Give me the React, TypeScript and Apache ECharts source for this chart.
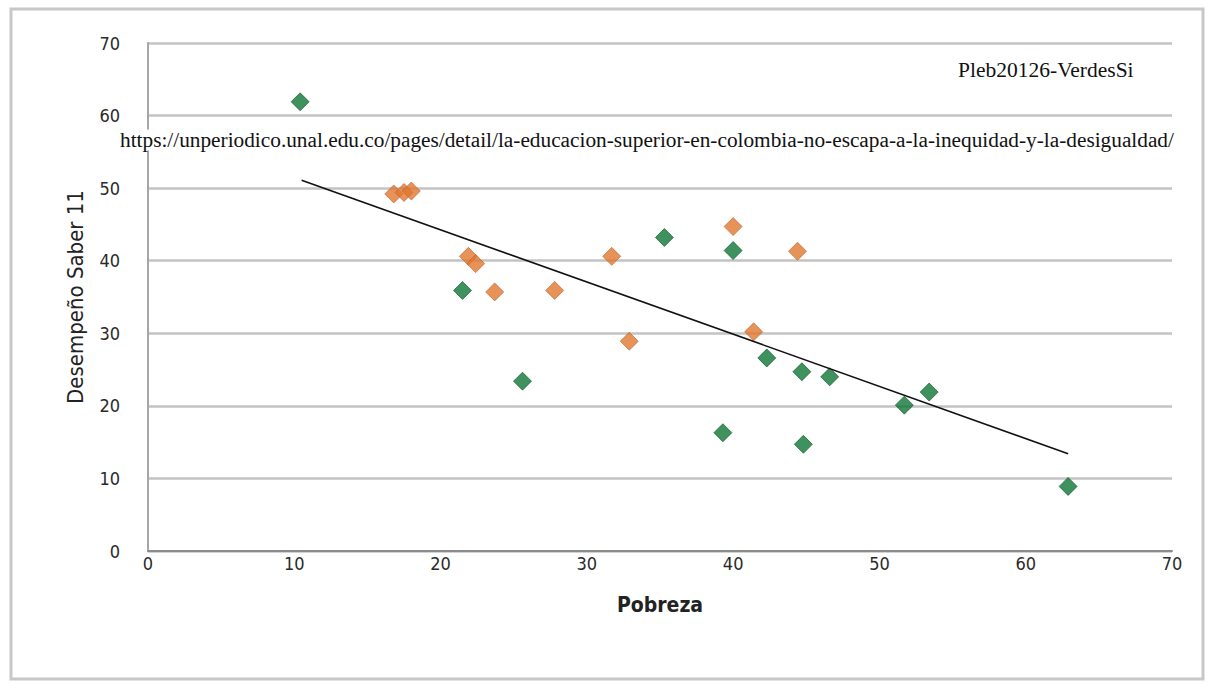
import React, { useEffect, useRef } from "react";
import * as echarts from "echarts";

const greenPoints: [number, number][] = [
  [10.4, 61.9],
  [21.5, 35.9],
  [25.6, 23.4],
  [35.3, 43.2],
  [39.3, 16.3],
  [40.0, 41.4],
  [42.3, 26.6],
  [44.7, 24.7],
  [44.8, 14.7],
  [46.6, 24.0],
  [51.7, 20.1],
  [53.4, 21.9],
  [62.9, 8.9],
];

const orangePoints: [number, number][] = [
  [16.8, 49.2],
  [17.5, 49.4],
  [18.0, 49.6],
  [21.9, 40.6],
  [22.4, 39.6],
  [23.7, 35.7],
  [27.8, 35.9],
  [31.7, 40.6],
  [32.9, 28.9],
  [40.0, 44.7],
  [41.4, 30.2],
  [44.4, 41.3],
];

const trendLine: [number, number][] = [
  [10.5, 51.1],
  [62.9, 13.4],
];

const xTicks = { min: 0, max: 70, interval: 10 };
const yTicks = { min: 0, max: 70, interval: 10 };

const xName = "Pobreza";
const yName = "Desempeño Saber 11";
const noteTitle = "Pleb20126-VerdesSi";
const noteUrl =
  "https://unperiodico.unal.edu.co/pages/detail/la-educacion-superior-en-colombia-no-escapa-a-la-inequidad-y-la-desigualdad/";

export default function App() {
  const ref = useRef<HTMLDivElement>(null);
  useEffect(() => {
    document.body.style.margin = "0";
    if (!ref.current) return;
    const chart = echarts.init(ref.current, undefined, { renderer: "svg" });
    const axisFont = "DejaVu Sans Condensed";
    chart.setOption({
      animation: false,
      backgroundColor: "#ffffff",
      grid: { left: 148, right: 41, top: 43, bottom: 133, containLabel: false },
      xAxis: {
        type: "value",
        min: xTicks.min,
        max: xTicks.max,
        interval: xTicks.interval,
        name: xName,
        nameLocation: "middle",
        nameGap: 43,
        nameTextStyle: { fontFamily: axisFont, fontWeight: "bold", fontSize: 21, color: "#222" },
        axisLine: { show: true, onZero: false, lineStyle: { color: "#8c8c8c", width: 2 } },
        axisTick: { show: false },
        splitLine: { show: false },
        axisLabel: { fontFamily: axisFont, fontSize: 18, color: "#2a2a2a", margin: 3 },
      },
      yAxis: {
        type: "value",
        min: yTicks.min,
        max: yTicks.max,
        interval: yTicks.interval,
        name: yName,
        nameLocation: "middle",
        nameGap: 62,
        nameTextStyle: { fontFamily: axisFont, fontSize: 22, color: "#222" },
        axisLine: { show: true, lineStyle: { color: "#a6a6a6", width: 2 } },
        axisTick: { show: false },
        splitLine: { show: true, lineStyle: { color: "#c3c3c3", width: 2.5 } },
        axisLabel: { fontFamily: axisFont, fontSize: 18, color: "#2a2a2a", margin: 28 },
      },
      series: [
        {
          name: "trend",
          type: "line",
          data: trendLine,
          showSymbol: false,
          symbol: "none",
          lineStyle: { color: "#111", width: 1.6 },
          z: 3,
        },
        {
          name: "orange",
          type: "scatter",
          data: orangePoints,
          symbol: "diamond",
          symbolSize: [18, 18],
          itemStyle: { color: "#e0772f", borderColor: "#b8652e", borderWidth: 0.8 },
          z: 2,
        },
        {
          name: "green",
          type: "scatter",
          data: greenPoints,
          symbol: "diamond",
          symbolSize: [18, 18],
          itemStyle: { color: "#0f7535", borderColor: "#0b5527", borderWidth: 0.8 },
          z: 2,
        },
      ],
      graphic: [
        {
          type: "rect",
          shape: { x: 11, y: 9, width: 1192, height: 670 },
          style: { fill: "none", stroke: "#c8c8c8", lineWidth: 3 },
          z: 0,
        },
        {
          type: "text",
          x: 958,
          y: 70,
          style: {
            text: noteTitle,
            font: "21.5px 'Liberation Serif'",
            fill: "#111",
            verticalAlign: "middle",
          },
          z: 10,
        },
        {
          type: "text",
          x: 120,
          y: 140,
          style: {
            text: noteUrl,
            font: "21.3px 'Liberation Serif'",
            fill: "#111",
            verticalAlign: "middle",
            backgroundColor: "#ffffff",
          },
          z: 10,
        },
      ],
    });
    return () => chart.dispose();
  }, []);
  return <div ref={ref} style={{ width: 1213, height: 684 }} />;
}
